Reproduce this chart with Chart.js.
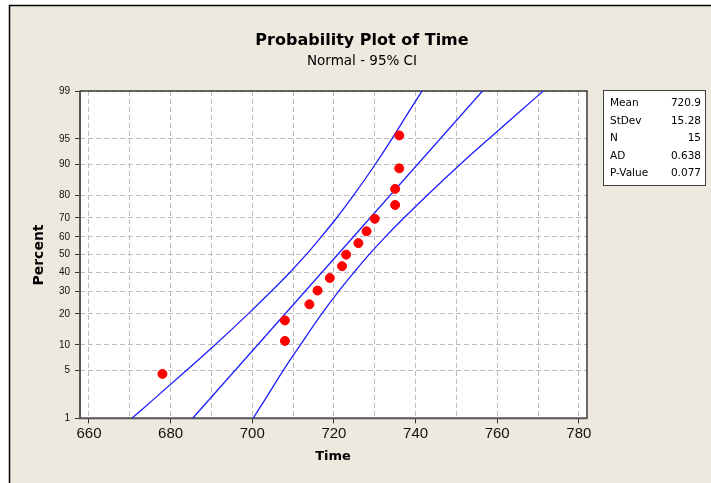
<!DOCTYPE html>
<html>
<head>
<meta charset="utf-8">
<script src="https://cdn.jsdelivr.net/npm/chart.js@4.4.1/dist/chart.umd.min.js"></script>
<style>
  html, body { margin: 0; padding: 0; background: #ffffff; }
  #wrap { width: 711px; height: 483px; position: relative; }
</style>
</head>
<body>
<div id="wrap"><canvas id="c" width="711" height="483"></canvas></div>
<script>
// ---------- data ----------
const times    = [678, 708, 708, 714, 716, 719, 722, 723, 726, 728, 730, 735, 735, 736, 736];
const percents = [4.5, 11.0, 17.5, 24.0, 30.5, 37.0, 43.5, 50.0, 56.5, 63.0, 69.5, 76.0, 82.5, 89.0, 95.5];

const fitPercents = [1, 99];
const fitTimes    = [685.4, 756.4];

const bandPercents = [1, 2, 5, 10, 20, 30, 40, 50, 60, 70, 80, 90, 95, 98, 99];
const lowerBand    = [670.5, 675.9, 683.9, 690.9, 699.0, 704.6, 709.2, 713.2, 716.9, 720.7, 724.8, 730.1, 734.2, 738.6, 741.6];
const upperBand    = [700.2, 703.2, 707.6, 711.8, 717.0, 721.1, 724.9, 728.6, 732.6, 737.2, 742.8, 750.9, 757.9, 765.9, 771.3];

const yTickPercents = [1, 5, 10, 20, 30, 40, 50, 60, 70, 80, 90, 95, 99];
const xGridValues   = [660, 670, 680, 690, 700, 710, 720, 730, 740, 750, 760, 770, 780];

const statLabels = ["Mean", "StDev", "N", "AD", "P-Value"];
const statValues = ["720.9", "15.28", "15", "0.638", "0.077"];

const titleText    = "Probability Plot of Time";
const subtitleText = "Normal - 95% CI";
const xTitle = "Time";
const yTitle = "Percent";

// ---------- normal probability scale transform ----------
function qnorm(p) {
  const a=[-3.969683028665376e+01,2.209460984245205e+02,-2.759285104469687e+02,1.383577518672690e+02,-3.066479806614716e+01,2.506628277459239e+00];
  const b=[-5.447609879822406e+01,1.615858368580409e+02,-1.556989798598866e+02,6.680131188771972e+01,-1.328068155288572e+01];
  const c=[-7.784894002430293e-03,-3.223964580411365e-01,-2.400758277161838e+00,-2.549732539343734e+00,4.374664141464968e+00,2.938163982698783e+00];
  const d=[7.784695709041462e-03,3.224671290700398e-01,2.445134137142996e+00,3.754408661907416e+00];
  const pl = 0.02425; let q, r;
  if (p < pl) { q = Math.sqrt(-2*Math.log(p)); return (((((c[0]*q+c[1])*q+c[2])*q+c[3])*q+c[4])*q+c[5])/((((d[0]*q+d[1])*q+d[2])*q+d[3])*q+1); }
  if (p <= 1-pl) { q = p-0.5; r = q*q; return (((((a[0]*r+a[1])*r+a[2])*r+a[3])*r+a[4])*r+a[5])*q/(((((b[0]*r+b[1])*r+b[2])*r+b[3])*r+b[4])*r+1); }
  q = Math.sqrt(-2*Math.log(1-p));
  return -(((((c[0]*q+c[1])*q+c[2])*q+c[3])*q+c[4])*q+c[5])/((((d[0]*q+d[1])*q+d[2])*q+d[3])*q+1);
}
const z = pct => qnorm(pct / 100);
const pairs = (xs, ps) => xs.map((x, i) => ({ x: x, y: z(ps[i]) }));

const BG = '#EDE9DF';
const BLUE = '#1E1EFF';

const decor = {
  id: 'decor',
  beforeDraw(chart) {
    const ctx = chart.ctx, a = chart.chartArea;
    ctx.save();
    ctx.fillStyle = '#ffffff';
    ctx.fillRect(0, 0, chart.width, chart.height);
    ctx.fillStyle = BG;
    ctx.fillRect(9, 5, chart.width - 9, chart.height - 5);
    ctx.strokeStyle = '#000000';
    ctx.lineWidth = 1.5;
    ctx.beginPath();
    ctx.moveTo(9.5, chart.height); ctx.lineTo(9.5, 5.5); ctx.lineTo(chart.width, 5.5);
    ctx.stroke();
    ctx.fillStyle = '#ffffff';
    ctx.fillRect(a.left, a.top, a.right - a.left, a.bottom - a.top);
    ctx.restore();
  },
  beforeDatasetsDraw(chart) {
    const ctx = chart.ctx, a = chart.chartArea;
    ctx.save();
    ctx.strokeStyle = '#3a3a3a';
    ctx.lineWidth = 1.5;
    ctx.beginPath();
    ctx.moveTo(a.left, a.top); ctx.lineTo(a.right, a.top); ctx.lineTo(a.right, a.bottom);
    ctx.stroke();
    ctx.strokeStyle = '#555555';
    ctx.lineWidth = 2;
    ctx.beginPath();
    ctx.moveTo(a.left, a.top - 0.5); ctx.lineTo(a.left, a.bottom); ctx.lineTo(a.right + 0.5, a.bottom);
    ctx.stroke();
    ctx.restore();
  },
  afterDraw(chart) {
    const ctx = chart.ctx;
    ctx.save();
    ctx.fillStyle = '#000000';
    ctx.textAlign = 'center';
    ctx.textBaseline = 'middle';
    ctx.font = 'bold 16px "DejaVu Sans"';
    ctx.fillText(titleText, 362, 41);
    ctx.font = '13.5px "DejaVu Sans"';
    ctx.fillText(subtitleText, 362, 61);
    ctx.font = 'bold 13px "DejaVu Sans"';
    ctx.fillText(xTitle, 333, 457);
    ctx.save();
    ctx.translate(39, 255);
    ctx.rotate(-Math.PI / 2);
    ctx.font = 'bold 14px "DejaVu Sans"';
    ctx.fillText(yTitle, 0, 0);
    ctx.restore();
    // stats box
    const bx = 603, by = 90, bw = 102, bh = 95;
    ctx.fillStyle = '#ffffff';
    ctx.fillRect(bx, by, bw, bh);
    ctx.strokeStyle = '#404040';
    ctx.lineWidth = 1;
    ctx.strokeRect(bx + 0.5, by + 0.5, bw, bh);
    ctx.fillStyle = '#000000';
    ctx.font = '10.5px "DejaVu Sans"';
    statLabels.forEach((l, i) => {
      const y = 103.5 + i * 17.5;
      ctx.textAlign = 'left';
      ctx.fillText(l, 610, y);
      ctx.textAlign = 'right';
      ctx.fillText(statValues[i], 701, y);
    });
    ctx.restore();
  }
};

new Chart(document.getElementById('c'), {
  type: 'scatter',
  data: {
    datasets: [
      { label: 'Time', data: pairs(times, percents), backgroundColor: '#FF0000', borderColor: '#FF0000',
        pointRadius: 4.5, pointHoverRadius: 4.5, showLine: false },
      { label: 'Fit', data: pairs(fitTimes, fitPercents), borderColor: BLUE, borderWidth: 1.3,
        pointRadius: 0, showLine: true },
      { label: 'Lower', data: pairs(lowerBand, bandPercents), borderColor: BLUE, borderWidth: 1.3,
        pointRadius: 0, showLine: true, cubicInterpolationMode: 'monotone' },
      { label: 'Upper', data: pairs(upperBand, bandPercents), borderColor: BLUE, borderWidth: 1.3,
        pointRadius: 0, showLine: true, cubicInterpolationMode: 'monotone' }
    ]
  },
  options: {
    responsive: false,
    animation: false,
    devicePixelRatio: 1,
    layout: { padding: { left: 0, top: 91, right: 124, bottom: 0 } },
    plugins: { legend: { display: false }, tooltip: { enabled: false }, title: { display: false } },
    scales: {
      x: {
        type: 'linear', min: 657.8, max: 782,
        afterBuildTicks: s => { s.ticks = xGridValues.map(v => ({ value: v })); },
        afterFit: s => { s.height = 64.7; },
        border: { display: false, dash: [5, 3] },
        grid: {
          color: '#BDBDBD', lineWidth: 1, drawTicks: true, tickLength: 5, tickWidth: 1,
          tickBorderDash: [],
          tickColor: ctx => (ctx.tick && ctx.tick.value % 20 === 0) ? '#333333' : 'rgba(0,0,0,0)'
        },
        ticks: {
          autoSkip: false, maxRotation: 0, padding: 2, color: '#111111',
          font: { family: 'Liberation Sans', size: 15 },
          callback: v => (v % 20 === 0 ? String(v) : '')
        }
      },
      y: {
        type: 'linear', min: z(1), max: z(99),
        afterBuildTicks: s => { s.ticks = yTickPercents.map(p => ({ value: z(p) })); },
        afterFit: s => { s.width = 80; },
        border: { display: false, dash: [5, 3] },
        grid: {
          color: '#BDBDBD', lineWidth: 1, drawTicks: true, tickLength: 5, tickWidth: 1,
          tickBorderDash: [], tickColor: '#333333'
        },
        ticks: {
          autoSkip: false, padding: 5, color: '#111111',
          font: { family: 'Liberation Sans', size: 10 },
          callback: (v, i) => String(yTickPercents[i])
        }
      }
    }
  },
  plugins: [decor]
});
</script>
</body>
</html>
